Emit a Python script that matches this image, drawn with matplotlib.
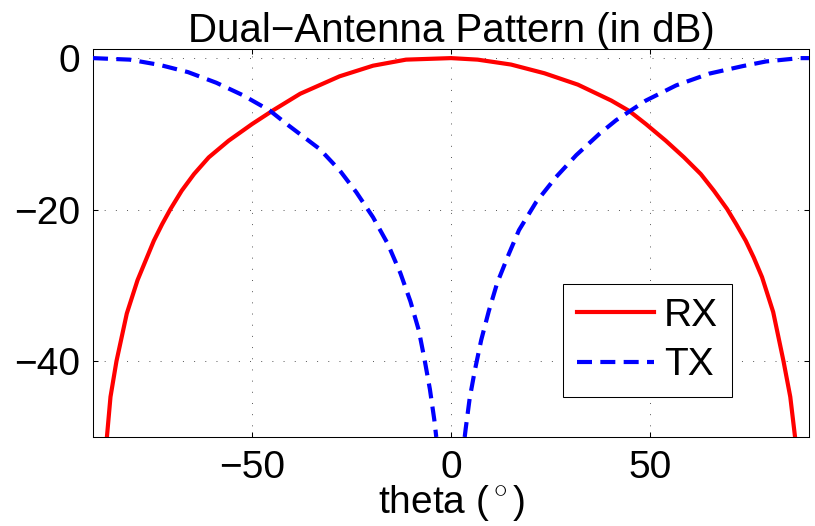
import numpy as np
import matplotlib
matplotlib.use('Agg')
import matplotlib.pyplot as plt

# --- Data (theta in degrees, gain in dB) ---
RX_THETA = [-86.5, -85.6, -84.1, -81.5, -78.8, -74.7, -72.6, -70.5, -67.7,
            -64.6, -60.9, -55.9, -50.0, -44.6, -37.9, -28.0, -19.6, -11.3,
            0.0, 6.7, 15.1, 23.5, 31.9, 40.3, 44.8, 49.0, 54.0, 58.6, 62.8,
            66.1, 69.4, 71.7, 74.1, 76.1, 78.2, 81.0, 83.6, 85.3, 86.5]
RX_DB = [-50.0, -44.7, -40.0, -33.7, -29.3, -24.1, -21.9, -19.9, -17.5,
         -15.3, -13.1, -10.9, -8.7, -6.85, -4.7, -2.4, -1.0, -0.2,
         0.0, -0.2, -0.85, -2.0, -3.5, -5.6, -6.97, -8.7, -10.9, -13.1, -15.3,
         -17.5, -19.9, -21.9, -24.1, -26.3, -28.9, -33.5, -40.0, -44.7, -50.0]

TX_LEFT_THETA = [-90.0, -80.8, -73.2, -66.1, -59.0, -52.3, -45.6, -40.8, -33.0,
                 -28.0, -23.8, -19.6, -15.9, -12.7, -10.2, -8.1, -6.6, -5.3,
                 -4.2, -3.7]
TX_LEFT_DB = [0.0, -0.2, -0.9, -1.85, -3.25, -4.9, -6.9, -8.9, -12.0,
              -14.8, -17.7, -21.0, -24.5, -28.4, -32.1, -35.9, -39.9, -43.7,
              -47.7, -50.0]
TX_RIGHT_THETA = [3.45, 3.7, 4.7, 6.0, 7.6, 9.5, 11.6, 14.5, 17.1, 21.4, 26.4,
                  31.5, 37.3, 41.5, 49.0, 56.6, 64.9, 73.3, 79.2, 87.6, 90.0]
TX_RIGHT_DB = [-50.0, -48.9, -44.9, -41.2, -37.2, -33.4, -29.7, -25.9, -22.7,
               -19.0, -15.7, -12.8, -10.0, -8.2, -5.6, -3.6, -2.05, -1.06,
               -0.44, 0.0, 0.0]

X_TICKS = [-50, 0, 50]
Y_TICKS = [-40, -20, 0]

# TX is -inf at broadside, so the two lobes are split by a NaN gap
tx_theta = TX_LEFT_THETA + [np.nan] + TX_RIGHT_THETA
tx_db = TX_LEFT_DB + [np.nan] + TX_RIGHT_DB

plt.rcParams['font.family'] = 'sans-serif'
plt.rcParams['font.sans-serif'] = ['Liberation Sans', 'Arial', 'DejaVu Sans']
plt.rcParams['font.size'] = 28
plt.rcParams['mathtext.fontset'] = 'custom'
plt.rcParams['mathtext.rm'] = 'Liberation Sans'

fig = plt.figure(figsize=(8.15, 5.26), dpi=100)
ax = fig.add_axes([0.1141, 0.1692, 0.8785, 0.7376])

ax.plot(RX_THETA, RX_DB, color='#ff0000', linewidth=3, label='RX',
        solid_joinstyle='round', zorder=3)
ax.plot(tx_theta, tx_db, color='#0000ff', linewidth=3, linestyle=(0, (3.6, 2.0)),
        label='TX', zorder=3)

ax.set_xlim(-90, 90)
ax.set_ylim(-50, 1.2)
ax.set_xticks(X_TICKS)
ax.set_yticks(Y_TICKS)
ax.set_xticklabels([f'{t}'.replace('-', '\u2212') for t in X_TICKS])
ax.set_yticklabels([f'{t}'.replace('-', '\u2212') for t in Y_TICKS])

ax.grid(True, color='#555555', linewidth=0.7, linestyle=(0, (1, 10.5)))
ax.tick_params(direction='in', top=True, right=True, length=3.4, width=0.75,
               pad=9)
for sp in ax.spines.values():
    sp.set_linewidth(0.75)

ax.set_title('Dual\u2212Antenna Pattern (in dB)', fontsize=29, pad=5)
ax.set_xlabel(r'theta ($^\circ$)', labelpad=-2)

ax.legend(loc='lower right', bbox_to_anchor=(0.892, 0.103), borderaxespad=0,
          fancybox=False, edgecolor='black', framealpha=1, handlelength=2.0,
          handletextpad=0.25, labelspacing=0.35, borderpad=0.35)
ax.get_legend().get_frame().set_linewidth(0.75)

plt.savefig('out.png', dpi=100)
plt.close()
